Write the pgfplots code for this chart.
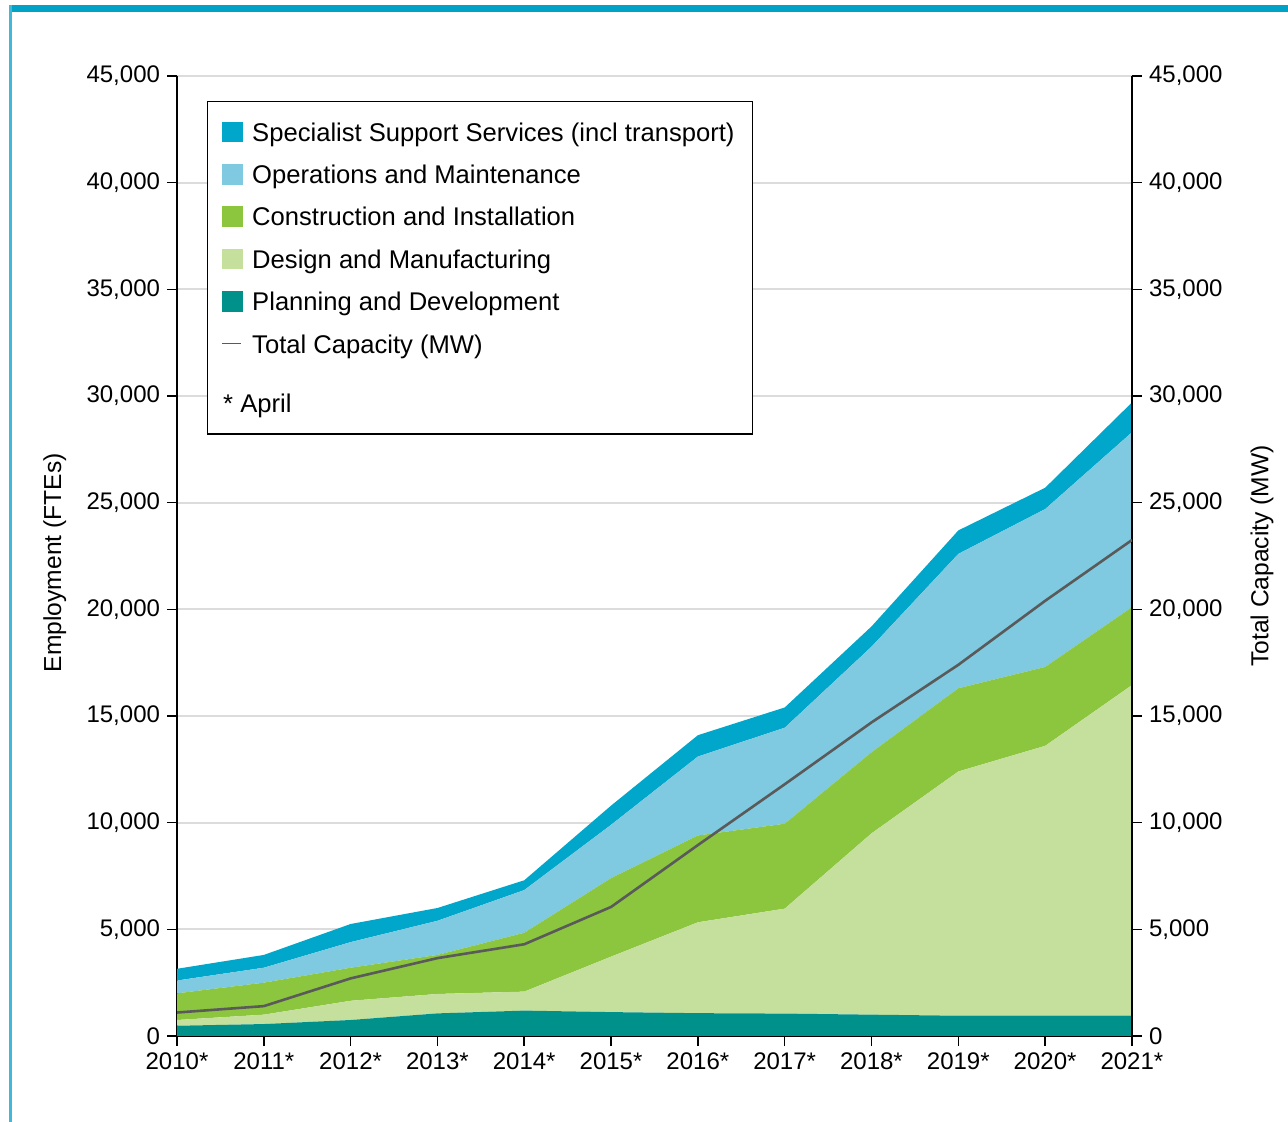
\documentclass[border=0pt]{standalone}
\usepackage{fontspec}
\setmainfont{Liberation Sans}
\usepackage{pgfplots}
\usepackage{pgfplotstable}
\pgfplotsset{compat=1.18}
\definecolor{sss}{HTML}{00A7CA}
\definecolor{om}{HTML}{7FCAE0}
\definecolor{ci}{HTML}{8CC63F}
\definecolor{dm}{HTML}{C5DF9D}
\definecolor{pd}{HTML}{00918A}
\definecolor{capc}{HTML}{5A5A5A}
\definecolor{gridc}{HTML}{DCDCDC}
\definecolor{frametop}{HTML}{00A3C6}
\definecolor{frameleft}{HTML}{40B8D8}
\pgfplotstableread{
year teal dm ci om sss cap
2010 480 270 1250 600 550 1100
2011 560 440 1500 700 600 1400
2012 750 900 1550 1200 850 2700
2013 1060 910 1830 1600 600 3650
2014 1190 890 2760 2000 460 4300
2015 1120 2600 3680 2500 900 6050
2016 1070 4260 4070 3700 1000 8950
2017 1050 4920 3980 4500 950 11800
2018 1000 8500 3800 4950 950 14700
2019 950 11450 3900 6300 1100 17400
2020 950 12650 3700 7400 1000 20400
2021 950 15500 3650 8200 1400 23250
}\data
\newcommand{\fs}{\fontsize{12}{14.4}\selectfont}
\newcommand{\fl}{\fontsize{12.3}{14.8}\selectfont}
\newcommand{\fg}{\fontsize{12.8}{15.4}\selectfont}
\pgfplotsset{
  common/.style={
    at={(88.5pt,43pt)}, anchor=south west, scale only axis,
    width=477.5pt, height=480pt,
    xmin=2010, xmax=2021, ymin=0, ymax=45000,
    ytick={0,5000,...,45000},
    scaled y ticks=false,
    /pgf/number format/1000 sep={,},
    /pgf/number format/assume math mode=true,
    tick label style={font=\fs},
    label style={font=\fl},
    tick align=outside,
    major tick length=5pt,
    tick style={black, line width=0.75pt},
    axis line style={-, black, line width=0.75pt},
  }
}
\begin{document}
\begin{tikzpicture}
\useasboundingbox (0,0) rectangle (644pt,561pt);
\fill[frametop] (4.5pt,555pt) rectangle (644pt,558.5pt);
\fill[frameleft] (4.5pt,0pt) rectangle (6pt,558.5pt);
\begin{axis}[common,
  axis x line*=bottom, axis y line*=left,
  xtick={2010,...,2021},
  xticklabels={2010*,2011*,2012*,2013*,2014*,2015*,2016*,2017*,2018*,2019*,2020*,2021*},
  ymajorgrids, grid style={draw=gridc, line width=1pt},
  ylabel={Employment (FTEs)},
  ylabel style={at={(axis description cs:-0.128,0.493)}, anchor=center},
  stack plots=y,
]
\addplot[fill=pd, draw=none] table[x=year,y=teal]{\data} \closedcycle;
\addplot[fill=dm, draw=none] table[x=year,y=dm]{\data} \closedcycle;
\addplot[fill=ci, draw=none] table[x=year,y=ci]{\data} \closedcycle;
\addplot[fill=om, draw=none] table[x=year,y=om]{\data} \closedcycle;
\addplot[fill=sss, draw=none] table[x=year,y=sss]{\data} \closedcycle;
\end{axis}
\begin{axis}[common,
  axis x line=none, axis y line*=right,
  ylabel={Total Capacity (MW)},
  ylabel style={at={(axis description cs:1.136,0.5)}, anchor=center},
  legend style={at={(axis description cs:0.0314,0.974)}, anchor=north west,
    draw=black, line width=0.75pt, fill=white, font=\fg,
    inner xsep=7pt, inner ysep=7pt, row sep=4.9pt, column sep=2.5pt,
    nodes={inner sep=2pt}},
  legend cell align=left,
]
\addlegendimage{legend image code/.code={\fill[sss] (0pt,-4.75pt) rectangle (10pt,4.75pt);}}
\addlegendentry{\strut Specialist Support Services (incl transport)}
\addlegendimage{legend image code/.code={\fill[om] (0pt,-4.75pt) rectangle (10pt,4.75pt);}}
\addlegendentry{\strut Operations and Maintenance}
\addlegendimage{legend image code/.code={\fill[ci] (0pt,-4.75pt) rectangle (10pt,4.75pt);}}
\addlegendentry{\strut Construction and Installation}
\addlegendimage{legend image code/.code={\fill[dm] (0pt,-4.75pt) rectangle (10pt,4.75pt);}}
\addlegendentry{\strut Design and Manufacturing}
\addlegendimage{legend image code/.code={\fill[pd] (0pt,-4.75pt) rectangle (10pt,4.75pt);}}
\addlegendentry{\strut Planning and Development}
\addplot[capc, line width=1.3pt, legend image code/.code={\draw[capc, line width=0.7pt] (0pt,0pt) -- (9.5pt,0pt);}] table[x=year,y=cap]{\data};
\addlegendentry{\strut Total Capacity (MW)}
\addlegendimage{empty legend}
\addlegendentry{\raisebox{0pt}[\height][-2pt]{\rule{0pt}{19.5pt}\hspace{-14.5pt}* April}}
\end{axis}
\end{tikzpicture}
\end{document}
